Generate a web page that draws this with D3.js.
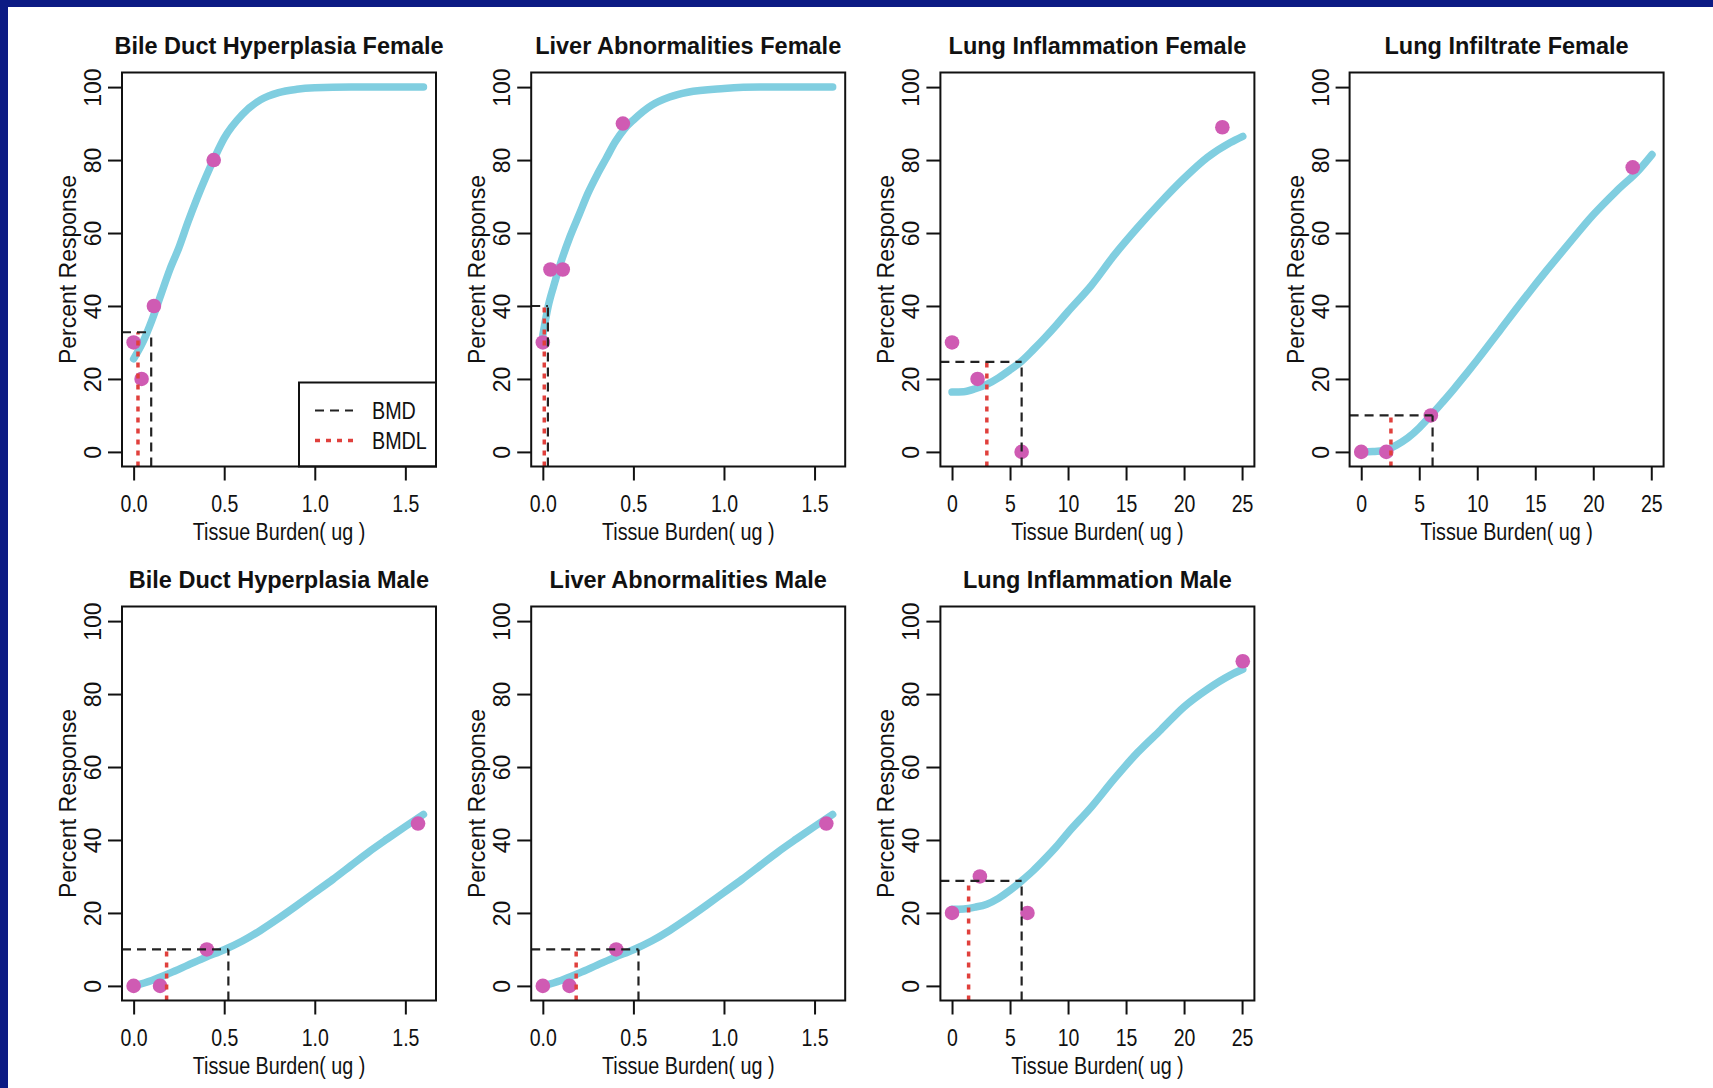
<!DOCTYPE html>
<html>
<head>
<meta charset="utf-8">
<style>
  body { margin: 0; background: #fff; }
  svg { display: block; }
  text { font-family: "Liberation Sans", Arial, sans-serif; fill: #111; }
  .box { fill: none; stroke: #111; stroke-width: 2; }
  .fit { fill: none; stroke: #80cee0; stroke-width: 7.5; stroke-linecap: round; stroke-linejoin: round; }
  .bmd { fill: none; stroke: #222; stroke-width: 2.2; stroke-dasharray: 9,6; }
  .bmdl { fill: none; stroke: #e0403c; stroke-width: 3.5; stroke-dasharray: 5,6; }
  .pt { fill: #cf5bb3; }
  .axis line { stroke: #111; stroke-width: 2; }
  .axis text { font-size: 23px; }
</style>
</head>
<body>
<script src="https://d3js.org/d3.v7.min.js"></script>
<script>
// panel titles, in drawing order (top row then bottom row)
var titles = ["Bile Duct Hyperplasia Female", "Liver Abnormalities Female",
              "Lung Inflammation Female", "Lung Infiltrate Female",
              "Bile Duct Hyperplasia Male", "Liver Abnormalities Male",
              "Lung Inflammation Male"];

// tick labels
var yTicks = [0, 20, 40, 60, 80, 100];
var xTicksUg = [0, 0.5, 1.0, 1.5];
var xTicksLung = [0, 5, 10, 15, 20, 25];
var xMaxUg = 1.605, xMaxLung = 25.06;

// observed responses (dose, percent)
var bdhF_dose = [0, 0.044, 0.112, 0.442], bdhF_resp = [30, 20, 40, 80];
var laF_dose  = [0, 0.042, 0.11, 0.442],  laF_resp  = [30, 50, 50, 90];
var linF_dose = [0, 2.2, 6.0, 23.3],      linF_resp = [30, 20, 0, 89];
var lifF_dose = [0, 2.16, 6.0, 23.4],     lifF_resp = [0, 0, 10, 78];
var bdhM_dose = [0, 0.146, 0.404, 1.57],  bdhM_resp = [0, 0, 10, 44.5];
var laM_dose  = [0, 0.147, 0.405, 1.565], laM_resp  = [0, 0, 10, 44.5];
var linM_dose = [0, 2.4, 6.5, 25.06],     linM_resp = [20, 30, 20, 89];

// fitted curves
var bdhF_fitX = [0, 0.05, 0.1, 0.15, 0.2, 0.25, 0.3, 0.35, 0.4, 0.45, 0.5, 0.6, 0.7, 0.8, 0.9, 1.0, 1.2, 1.4, 1.6];
var bdhF_fitY = [25.5, 30, 36, 43, 50, 56, 63, 69.5, 75.5, 81, 86, 92.5, 96.5, 98.5, 99.4, 99.8, 100, 100, 100];
var laF_fitX = [0, 0.03, 0.06, 0.1, 0.15, 0.2, 0.25, 0.3, 0.35, 0.4, 0.45, 0.5, 0.6, 0.7, 0.8, 1.0, 1.2, 1.6];
var laF_fitY = [32, 40, 45.5, 52, 59, 65, 71, 76, 80.5, 85, 88.5, 91, 95, 97.3, 98.6, 99.6, 100, 100];
var linF_fitX = [0, 1, 2, 3, 4, 5, 6, 7, 8, 9, 10, 12, 14, 16, 18, 20, 22, 24, 25.06];
var linF_fitY = [16.4, 16.5, 17.3, 18.5, 20.3, 22.5, 24.9, 28, 31.3, 34.8, 38.5, 45.6, 54, 61.5, 68.5, 75, 80.7, 84.8, 86.5];
var lifF_fitX = [0, 1, 2, 3, 4, 5, 6, 7, 8, 9, 10, 12, 14, 16, 18, 20, 22, 24, 25.06];
var lifF_fitY = [0, 0.1, 0.4, 1.8, 3.8, 6.6, 10, 13.6, 17.3, 21.2, 25.2, 33.5, 41.8, 49.8, 57.5, 65, 71.5, 77.5, 81.5];
var bdhM_fitX = [0, 0.1, 0.2, 0.3, 0.4, 0.5, 0.6, 0.7, 0.8, 0.9, 1.0, 1.1, 1.2, 1.3, 1.4, 1.5, 1.6];
var bdhM_fitY = [0, 1.5, 3.5, 5.7, 7.9, 9.9, 12.3, 15.2, 18.5, 22, 25.6, 29.2, 33, 36.8, 40.3, 43.7, 47];
var laM_fitX = [0, 0.1, 0.2, 0.3, 0.4, 0.5, 0.6, 0.7, 0.8, 0.9, 1.0, 1.1, 1.2, 1.3, 1.4, 1.5, 1.6];
var laM_fitY = [0, 1.5, 3.5, 5.7, 7.9, 9.9, 12.3, 15.2, 18.5, 22, 25.6, 29.2, 33, 36.8, 40.3, 43.7, 47];
var linM_fitX = [0, 1, 2, 3, 4, 5, 6, 7, 8, 9, 10, 12, 14, 16, 18, 20, 22, 24, 25.06];
var linM_fitY = [21, 21.1, 21.6, 22.4, 24, 26.2, 28.8, 31.6, 34.8, 38.2, 42, 49, 56.8, 64, 70.2, 76.5, 81.3, 85.2, 86.8];

// benchmark dose, its lower limit, and the response level at the BMD
var bmdVals  = [0.097, 0.028, 6.0, 6.15, 0.523, 0.528, 6.0];
var bmdlVals = [0.024, 0.008, 3.0, 2.56, 0.182, 0.184, 1.43];
var bmrVals  = [32.8, 40, 24.7, 10, 10, 10, 28.8];

var doses = [bdhF_dose, laF_dose, linF_dose, lifF_dose, bdhM_dose, laM_dose, linM_dose];
var resps = [bdhF_resp, laF_resp, linF_resp, lifF_resp, bdhM_resp, laM_resp, linM_resp];
var fitXs = [bdhF_fitX, laF_fitX, linF_fitX, lifF_fitX, bdhM_fitX, laM_fitX, linM_fitX];
var fitYs = [bdhF_fitY, laF_fitY, linF_fitY, lifF_fitY, bdhM_fitY, laM_fitY, linM_fitY];
var isLung = [false, false, true, true, false, false, true];

var W = 1713, H = 1088;
var boxW = 314, boxH = 394;
var lefts = [122, 531.2, 940.4, 1349.6];
var tops = [72.5, 606.5];

var svg = d3.select("body").append("svg")
    .attr("width", W)
    .attr("height", H);

svg.append("rect").attr("width", W).attr("height", H).attr("fill", "#fff");
// dark blue slide border on the top and left
svg.append("rect").attr("width", W).attr("height", 7).attr("fill", "#0c1b84");
svg.append("rect").attr("width", 8).attr("height", H).attr("fill", "#0c1b84");

titles.forEach(function (title, i) {
    var col = i % 4, row = Math.floor(i / 4);
    var xmax = isLung[i] ? xMaxLung : xMaxUg;
    var x = d3.scaleLinear().domain([-0.04 * xmax, 1.04 * xmax]).range([0, boxW]);
    var y = d3.scaleLinear().domain([-4, 104]).range([boxH, 0]);

    var g = svg.append("g")
        .attr("transform", "translate(" + lefts[col] + "," + tops[row] + ")");

    g.append("clipPath").attr("id", "clip" + i)
        .append("rect").attr("width", boxW).attr("height", boxH);

    var plot = g.append("g").attr("clip-path", "url(#clip" + i + ")");

    // fitted curve
    var fit = fitXs[i].map(function (v, k) { return [v, fitYs[i][k]]; });
    var line = d3.line()
        .x(function (d) { return x(d[0]); })
        .y(function (d) { return y(d[1]); })
        .curve(d3.curveMonotoneX);
    plot.append("path").datum(fit).attr("class", "fit").attr("d", line);

    // observed points
    var pts = doses[i].map(function (v, k) { return [v, resps[i][k]]; });
    plot.selectAll("circle").data(pts).enter().append("circle")
        .attr("class", "pt")
        .attr("cx", function (d) { return x(d[0]); })
        .attr("cy", function (d) { return y(d[1]); })
        .attr("r", 7.3);

    // BMDL (red dotted) and BMD (black dashed)
    plot.append("line").attr("class", "bmdl")
        .attr("x1", x(bmdlVals[i])).attr("x2", x(bmdlVals[i]))
        .attr("y1", y(-4)).attr("y2", y(bmrVals[i]));
    plot.append("line").attr("class", "bmd")
        .attr("x1", x(bmdVals[i])).attr("x2", x(bmdVals[i]))
        .attr("y1", y(-4)).attr("y2", y(bmrVals[i]));
    plot.append("line").attr("class", "bmd")
        .attr("x1", 0).attr("x2", x(bmdVals[i]))
        .attr("y1", y(bmrVals[i])).attr("y2", y(bmrVals[i]));

    g.append("rect").attr("class", "box").attr("width", boxW).attr("height", boxH);

    // x axis
    var xAxis = d3.axisBottom(x)
        .tickValues(isLung[i] ? xTicksLung : xTicksUg)
        .tickFormat(isLung[i] ? d3.format("d") : d3.format(".1f"))
        .tickSize(14).tickSizeOuter(0);
    var xg = g.append("g").attr("class", "axis")
        .attr("transform", "translate(0," + boxH + ")")
        .call(xAxis);
    xg.select(".domain").remove();
    xg.selectAll("text")
        .attr("y", 46).attr("dy", null)
        .attr("transform", "scale(0.83,1)")
        .style("font-size", "23.5px");

    // y axis, labels parallel to the axis
    var yAxis = d3.axisLeft(y).tickValues(yTicks).tickSize(14).tickSizeOuter(0);
    var yg = g.append("g").attr("class", "axis").call(yAxis);
    yg.select(".domain").remove();
    yg.selectAll("text")
        .attr("transform", "rotate(-90)")
        .attr("x", 0).attr("y", -21).attr("dy", null)
        .attr("text-anchor", "middle");

    // title and axis labels
    g.append("text")
        .attr("x", boxW / 2).attr("y", -19)
        .attr("text-anchor", "middle")
        .style("font-weight", "bold").style("font-size", "23.5px")
        .text(title);

    g.append("text")
        .attr("transform", "translate(" + (boxW / 2) + "," + (boxH + 73) + ") scale(0.84,1)")
        .attr("text-anchor", "middle")
        .style("font-size", "23.5px")
        .text("Tissue Burden( ug )");

    g.append("text")
        .attr("transform", "translate(-46," + (boxH / 2) + ") rotate(-90)")
        .attr("text-anchor", "middle")
        .style("font-size", "23px")
        .text("Percent Response");

    // legend only in the first panel
    if (i === 0) {
        var lg = g.append("g").attr("transform", "translate(177," + 310 + ")");
        lg.append("rect").attr("class", "box").attr("width", boxW - 177).attr("height", boxH - 310)
            .attr("fill", "#fff");
        var keys = [["BMD", "bmd"], ["BMDL", "bmdl"]];
        keys.forEach(function (k, j) {
            var ly = 28 + j * 30;
            lg.append("line").attr("class", k[1])
                .attr("x1", 16).attr("x2", 54).attr("y1", ly).attr("y2", ly);
            lg.append("text")
                .attr("transform", "translate(73," + (ly + 8) + ") scale(0.84,1)")
                .style("font-size", "23.5px")
                .text(k[0]);
        });
    }
});
</script>
</body>
</html>
